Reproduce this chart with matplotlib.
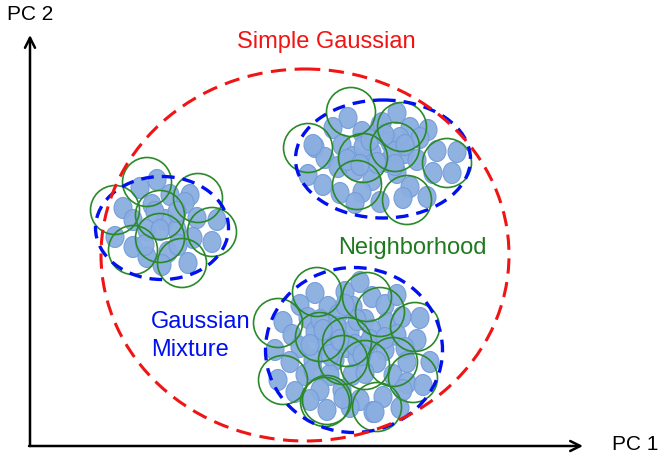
import matplotlib.pyplot as plt
from matplotlib.patches import Ellipse, Circle

plt.rcParams['font.family'] = ['Liberation Sans', 'DejaVu Sans']

# points of each cluster (picture pixel coords, y down)
small_x = [157, 140, 170, 190, 123, 152, 185, 133, 165, 197, 217, 147, 177, 115, 133, 193,
           212, 147, 168, 162, 188, 155, 177, 160, 178, 145]
small_y = [180, 188, 195, 195, 208, 205, 203, 220, 220, 218, 220, 230, 230, 237, 247, 238,
           242, 257, 252, 265, 263, 212, 212, 230, 245, 245]

top_x = [348, 333, 362, 397, 410, 428, 315, 342, 380, 390, 400, 420, 325, 353, 372, 388, 405,
         417, 437, 457, 308, 323, 338, 355, 372, 397, 410, 433, 452, 340, 362, 380, 403, 427,
         355, 347, 377, 393, 363, 313, 382, 370, 385, 360, 395, 405]
top_y = [118, 128, 132, 113, 128, 130, 147, 145, 125, 142, 138, 138, 158, 157, 153, 162, 153,
         160, 151, 152, 175, 185, 167, 170, 180, 173, 187, 173, 173, 193, 192, 202, 198, 197,
         203, 160, 163, 152, 147, 145, 123, 140, 135, 165, 165, 145]

bot_x = [315, 345, 360, 300, 328, 353, 372, 385, 397, 283, 308, 338, 365, 387, 402, 420, 292,
         315, 333, 350, 372, 397, 417, 275, 300, 325, 347, 367, 385, 405, 290, 313, 335, 357,
         377, 407, 430, 278, 305, 330, 352, 365, 393, 407, 295, 320, 342, 360, 383, 310, 327,
         350, 373, 400, 313, 337, 357, 343, 375, 403, 423, 320, 345, 330, 355, 370, 340, 362,
         385, 310, 323]
bot_y = [293, 292, 282, 305, 307, 307, 297, 305, 295, 322, 318, 315, 320, 323, 317, 318, 335,
         332, 333, 332, 330, 335, 340, 350, 347, 345, 347, 345, 350, 348, 362, 360, 360, 358,
         362, 362, 362, 380, 375, 375, 375, 373, 375, 383, 392, 390, 390, 400, 397, 400, 410,
         407, 412, 408, 370, 327, 320, 398, 412, 390, 385, 320, 305, 355, 345, 340, 340, 355,
         338, 345, 330]

# neighborhood circles
nb_x = [147, 115, 198, 160, 212, 160, 133, 182,
        351, 308, 402, 363, 395, 447, 357, 407,
        317, 367, 278, 380, 415, 320, 347, 343, 365, 393, 413, 283, 327, 377, 325]
nb_y = [182, 210, 198, 215, 232, 238, 250, 263,
        112, 148, 127, 158, 147, 163, 185, 200,
        292, 297, 323, 312, 327, 337, 342, 360, 365, 362, 378, 380, 400, 407, 402]

# gaussian mixture components: centre x, centre y, width, height
gm_cx = [162, 383, 354]
gm_cy = [228, 159, 350]
gm_w = [133, 175, 177]
gm_h = [103, 118, 165]

# single gaussian
sg = (305, 255, 408, 372)

fig = plt.figure(figsize=(6.63, 4.62), dpi=100)
ax = fig.add_axes([0, 0, 1, 1])
ax.set_xlim(0, 663)
ax.set_ylim(462, 0)
ax.axis('off')

for xs, ys in [(small_x, small_y), (top_x, top_y), (bot_x, bot_y)]:
    for x, y in zip(xs, ys):
        ax.add_patch(Ellipse((x, y), 18, 21, facecolor='#8aaee0', edgecolor='#729bd8',
                             lw=0.8, alpha=0.95, zorder=2))

for x, y in zip(nb_x, nb_y):
    ax.add_patch(Circle((x, y), 24.5, fill=False, edgecolor='#2a8a2a', lw=1.2, zorder=3))

for cx, cy, w, h in zip(gm_cx, gm_cy, gm_w, gm_h):
    ax.add_patch(Ellipse((cx, cy), w, h, fill=False, edgecolor='#0010ee', lw=2.4,
                         linestyle=(0, (3.8, 2.4)), zorder=4))

ax.add_patch(Ellipse((sg[0], sg[1]), sg[2], sg[3], fill=False, edgecolor='#f01414', lw=2.2,
                     linestyle=(0, (5, 2.8)), zorder=5))

# axes arrows
ax.annotate('', xy=(30, 35), xytext=(30, 446),
            arrowprops=dict(arrowstyle='->', lw=1.8, color='black', mutation_scale=18,
                            shrinkA=0, shrinkB=0))
ax.annotate('', xy=(583, 446), xytext=(29, 446),
            arrowprops=dict(arrowstyle='->', lw=1.8, color='black', mutation_scale=18,
                            shrinkA=0, shrinkB=0))

ax.text(7, 15, 'PC 2', fontsize=15, va='center', ha='left', color='black')
ax.text(612, 445, 'PC 1', fontsize=15, va='center', ha='left', color='black')
ax.text(326, 42, 'Simple Gaussian', fontsize=17, va='center', ha='center', color='#f01414')
ax.text(338, 248, 'Neighborhood', fontsize=17, va='center', ha='left', color='#1f7a1f')
ax.text(151, 322, 'Gaussian', fontsize=17, va='center', ha='left', color='#0010ee')
ax.text(151, 350, 'Mixture', fontsize=17, va='center', ha='left', color='#0010ee')

fig.savefig('out.png', dpi=100)
